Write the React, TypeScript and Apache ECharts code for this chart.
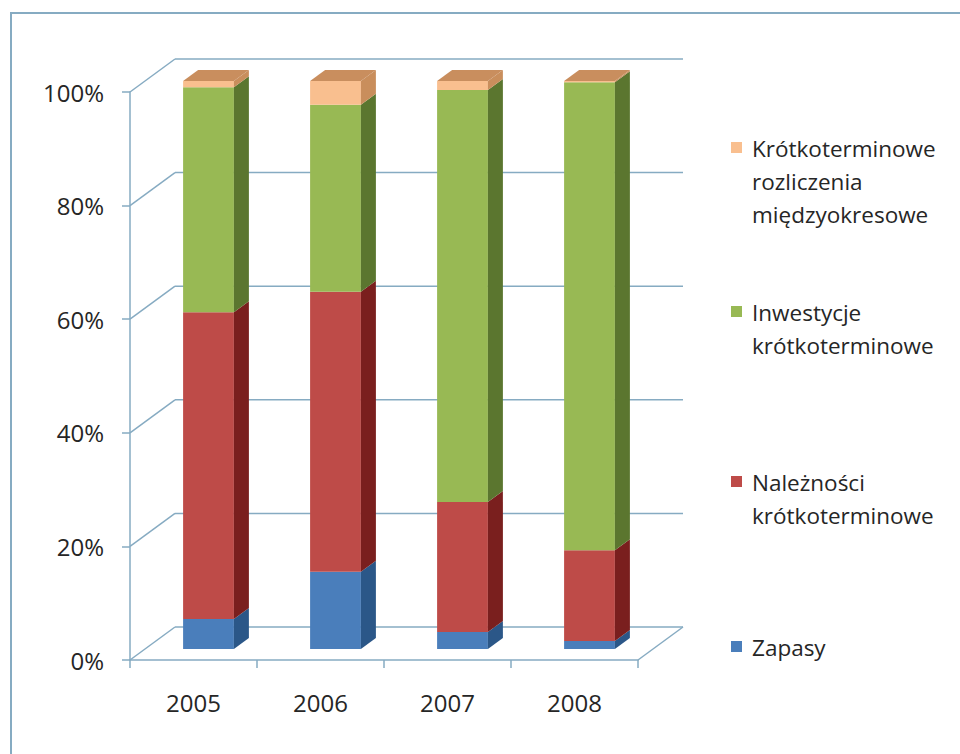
import React, { useEffect, useRef } from "react";
import * as echarts from "echarts";

// ---- data ----
const years = ["2005", "2006", "2007", "2008"];
const seriesNames = [
  "Zapasy",
  "Należności krótkoterminowe",
  "Inwestycje krótkoterminowe",
  "Krótkoterminowe rozliczenia międzyokresowe",
];
const legendLabels = [
  "Zapasy",
  "Należności\nkrótkoterminowe",
  "Inwestycje\nkrótkoterminowe",
  "Krótkoterminowe\nrozliczenia\nmiędzyokresowe",
];
const zapasy = [5.3, 13.6, 3.0, 1.4];
const naleznosci = [54.0, 49.3, 22.9, 16.0];
const inwestycje = [39.6, 32.9, 72.5, 82.4];
const rozliczenia = [1.1, 4.2, 1.6, 0.2];
const yTicks = [0, 20, 40, 60, 80, 100];

// ---- styles ----
const FRONT = ["#4a7ebb", "#be4b48", "#98b954", "#f9bf8f"];
const SIDE = ["#2b5788", "#7a1f1e", "#5b762f", "#c98e5c"];
const TOP = "#c98e5e";
const LINE = "#86abc2";
const TEXT = "#262626";
const FONT = '"Open Sans", sans-serif';
const WALL_DX = 45;
const WALL_DY = -33;
const BAR_DX = 15;
const BAR_DY = -11;
const BAR_FRAC = 0.4;
const legendRowY = [647, 482, 312, 148];

export default function App() {
  const ref = useRef<HTMLDivElement>(null);

  useEffect(() => {
    if (!ref.current) return;
    const chart = echarts.init(ref.current, undefined, { renderer: "svg" });

    const all = [zapasy, naleznosci, inwestycje, rozliczenia];
    const base = years.map(() => 0);
    const barSeries = all.map((vals, k) => {
      const data = vals.map((v, i) => {
        const lo = base[i];
        const hi = lo + v;
        base[i] = hi;
        return [i, lo, hi];
      });
      const isTop = k === all.length - 1;
      return {
        type: "custom",
        name: seriesNames[k],
        z: 3 + k,
        encode: { x: 0, y: [1, 2] },
        data,
        renderItem: (params: any, api: any) => {
          const cat = api.value(0);
          const lo = api.value(1);
          const hi = api.value(2);
          const pLo = api.coord([cat, lo]);
          const pHi = api.coord([cat, hi]);
          const band = api.size([1, 0])[0];
          const w = band * BAR_FRAC;
          const xl = pLo[0] - w / 2 + BAR_DX;
          const xr = xl + w;
          const yb = pLo[1] + BAR_DY;
          const yt = pHi[1] + BAR_DY;
          const children: any[] = [
            {
              type: "rect",
              shape: { x: xl, y: yt, width: w, height: Math.max(yb - yt, 0) },
              style: { fill: FRONT[k] },
            },
            {
              type: "polygon",
              shape: {
                points: [
                  [xr, yt],
                  [xr + BAR_DX, yt + BAR_DY],
                  [xr + BAR_DX, yb + BAR_DY],
                  [xr, yb],
                ],
              },
              style: { fill: SIDE[k] },
            },
          ];
          if (isTop) {
            children.push({
              type: "polygon",
              shape: {
                points: [
                  [xl, yt],
                  [xr, yt],
                  [xr + BAR_DX, yt + BAR_DY],
                  [xl + BAR_DX, yt + BAR_DY],
                ],
              },
              style: { fill: TOP },
            });
          }
          return { type: "group", children };
        },
      };
    });

    const wallSeries = {
      type: "custom",
      name: "walls",
      z: 1,
      silent: true,
      encode: { x: 0, y: 1 },
      data: yTicks.map((v) => [0, v]),
      renderItem: (params: any, api: any) => {
        const cs = params.coordSys;
        const x0 = cs.x;
        const x1 = cs.x + cs.width;
        const v = api.value(1);
        const y = api.coord([0, v])[1];
        const ls = { stroke: LINE, lineWidth: 1.5 };
        const children: any[] = [
          { type: "line", shape: { x1: x0, y1: y, x2: x0 + WALL_DX, y2: y + WALL_DY }, style: ls },
          {
            type: "line",
            shape: { x1: x0 + WALL_DX, y1: y + WALL_DY, x2: x1 + WALL_DX, y2: y + WALL_DY },
            style: ls,
          },
        ];
        if (v === 0) {
          children.push({
            type: "line",
            shape: { x1: x1, y1: y, x2: x1 + WALL_DX, y2: y + WALL_DY },
            style: ls,
          });
        }
        return { type: "group", children };
      },
    };

    const legendGraphics: any[] = [];
    seriesNames.forEach((_, k) => {
      const cy = legendRowY[k];
      legendGraphics.push({
        type: "rect",
        shape: { x: 731, y: cy - 6, width: 11, height: 11 },
        style: { fill: FRONT[k] },
      });
      legendGraphics.push({
        type: "text",
        x: 752,
        y: cy - 16.5,
        style: {
          text: legendLabels[k],
          font: `22.5px ${FONT}`,
          lineHeight: 33,
          fill: TEXT,
          verticalAlign: "top",
        },
      });
    });

    chart.setOption({
      animation: false,
      backgroundColor: "#ffffff",
      grid: { left: 130, right: 322, top: 92, bottom: 94 },
      xAxis: {
        type: "category",
        data: years,
        axisLine: { lineStyle: { color: LINE, width: 1.5 } },
        axisTick: { show: true, length: 8, lineStyle: { color: LINE, width: 1.5 } },
        axisLabel: { fontSize: 24, fontFamily: FONT, color: TEXT, margin: 30 },
        splitLine: { show: false },
      },
      yAxis: {
        type: "value",
        min: 0,
        max: 100,
        interval: 20,
        axisLine: { show: true, lineStyle: { color: LINE, width: 1.5 } },
        axisTick: { show: true, length: 8, lineStyle: { color: LINE, width: 1.5 } },
        axisLabel: {
          fontSize: 24,
          fontFamily: FONT,
          color: TEXT,
          margin: 26,
          formatter: "{value}%",
        },
        splitLine: { show: false },
      },
      graphic: [
        {
          type: "polyline",
          shape: { points: [[11, 754], [11, 13], [960, 13]] },
          style: { stroke: LINE, lineWidth: 2, fill: null },
        },
        ...legendGraphics,
      ],
      series: [wallSeries, ...barSeries],
    });

    return () => chart.dispose();
  }, []);

  return (
    <div
      ref={ref}
      style={{ position: "fixed", left: 0, top: 0, width: 960, height: 754 }}
    />
  );
}
